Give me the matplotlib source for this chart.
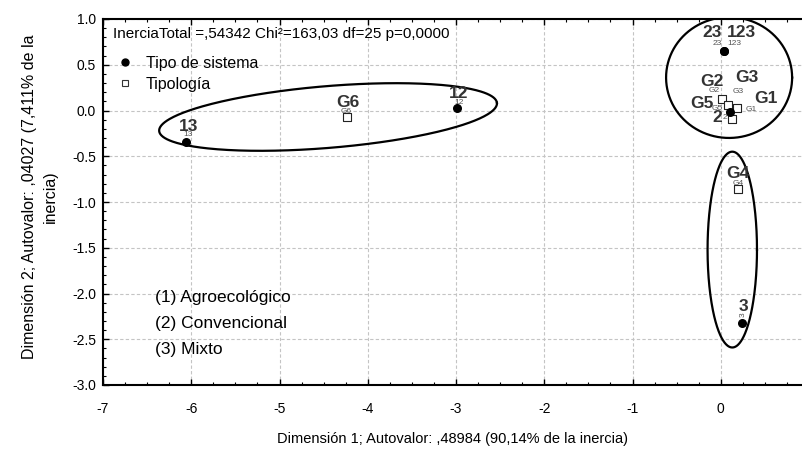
import numpy as np
import matplotlib
matplotlib.use('Agg')
import matplotlib.pyplot as plt
from matplotlib.ticker import MultipleLocator
from matplotlib.lines import Line2D

plt.rcParams['font.family'] = ['Liberation Sans', 'DejaVu Sans']
plt.rcParams['axes.unicode_minus'] = False
NARROW = ['Liberation Sans Narrow', 'Liberation Sans', 'DejaVu Sans']

# Tipo de sistema (puntos negros)
sis_nombres = ['13', '12', '23', '123', '2', '3']
sis_x = [-6.06, -2.99, 0.037, 0.037, 0.105, 0.24]
sis_y = [-0.344, 0.027, 0.65, 0.65, -0.016, -2.32]

# Tipología (cuadrados vacíos)
tip_nombres = ['G6', 'G2', 'G5', 'G1', 'G3', 'G4']
tip_x = [-4.24, 0.01, 0.083, 0.185, 0.128, 0.196]
tip_y = [-0.071, 0.13, 0.06, 0.027, -0.093, -0.858]

# desplazamiento de etiquetas (px): grande, pequeña
off_big = {'13': (3, 15), '12': (2, 15), '23': (-12, 19), '123': (17, 19),
           '2': (-13, -6), '3': (1, 16), 'G6': (1, 14), 'G2': (-10, 17),
           'G5': (-26, 2), 'G1': (29, 10), 'G3': (15, 42), 'G4': (0, 16)}
off_small = {'13': (2, 7), '12': (2, 6), '23': (-7, 8), '123': (10, 8),
             '2': (-5, -6), '3': (1, 8), 'G6': (0, 5), 'G2': (-7, 8),
             'G5': (-11, -3), 'G1': (14, -1), 'G3': (6, 28), 'G4': (0, 6)}

# elipses: centro x, centro y, semieje a, semieje b, angulo
elipses = [(-4.45, -0.071, 1.92, 0.35, 4.75),
           (0.094, 0.36, 0.714, 0.66, 0.0),
           (0.13, -1.52, 0.28, 1.07, 0.0)]

leyenda_tipos = ['(1) Agroecológico', '(2) Convencional', '(3) Mixto']

fig = plt.figure(figsize=(8.02, 4.53), dpi=100)
ax = fig.add_axes([103 / 802, 1 - 385 / 453, 1 - 103 / 802, 366 / 453])

ax.set_xlim(-7, 0.92)
ax.set_ylim(-3.0, 1.0)
ax.xaxis.set_major_locator(MultipleLocator(1))
ax.xaxis.set_minor_locator(MultipleLocator(0.25))
ax.yaxis.set_major_locator(MultipleLocator(0.5))
ax.yaxis.set_minor_locator(MultipleLocator(0.1))
ax.yaxis.set_major_formatter(matplotlib.ticker.FormatStrFormatter('%.1f'))
ax.grid(True, which='major', color='#c4c4c4', linestyle=(0, (3, 2)), linewidth=0.8)
ax.set_axisbelow(True)
ax.tick_params(which='both', direction='in', top=True, right=False, labelsize=10)
ax.tick_params(which='major', length=4, width=1)
ax.tick_params(which='minor', length=2.5, width=0.8)
ax.tick_params(axis='x', pad=12)
ax.tick_params(axis='y', pad=5)
for lab in ax.get_xticklabels():
    lab.set_family(NARROW)
ax.spines['right'].set_visible(False)
for s in ['left', 'bottom', 'top']:
    ax.spines[s].set_linewidth(1.5)

s = 91.5 / 88.2
t = np.linspace(0, 2 * np.pi, 400)
for cx, cy, a, b, ang in elipses:
    th = np.radians(ang)
    ex = cx + a * np.cos(t) * np.cos(th) - b * np.sin(t) * np.sin(th)
    ey = cy + (a * np.cos(t) * np.sin(th) + b * np.sin(t) * np.cos(th)) / (s if ang else 1)
    ax.plot(ex, ey, color='black', linewidth=1.6, zorder=3)

ax.scatter(tip_x, tip_y, marker='s', s=38, facecolors='white', edgecolors='#222222',
           linewidths=0.8, zorder=4)
ax.scatter(sis_x, sis_y, marker='o', s=30, color='black', zorder=5)

for nombres, xs, ys in [(sis_nombres, sis_x, sis_y), (tip_nombres, tip_x, tip_y)]:
    for n, x, y in zip(nombres, xs, ys):
        ax.annotate(n, (x, y), xytext=off_small[n], textcoords='offset pixels',
                    ha='center', va='center', fontsize=6, color='#555555',
                    family=NARROW, rotation=90 if n == '3' else 0, zorder=6)
        ax.annotate(n, (x, y), xytext=off_big[n], textcoords='offset pixels',
                    ha='center', va='center', fontsize=12.5, fontweight='bold',
                    color='#333333', family=NARROW, zorder=6)

ax.text(0.014, 0.959, 'InerciaTotal =,54342 Chi²=163,03 df=25 p=0,0000',
        transform=ax.transAxes, fontsize=11, family=NARROW, va='center', ha='left')

handles = [Line2D([], [], marker='o', color='black', linestyle='none', markersize=5),
           Line2D([], [], marker='s', markerfacecolor='white', markeredgecolor='#333333',
                  markeredgewidth=0.8, linestyle='none', markersize=5)]
ax.legend(handles, ['Tipo de sistema', 'Tipología'], loc='upper left',
          bbox_to_anchor=(0.0, 0.925), frameon=False, handletextpad=0.6,
          handlelength=1.5, labelspacing=0.35, borderaxespad=0.2,
          prop={'family': NARROW, 'size': 11.5})

for i, txt in enumerate(leyenda_tipos):
    ax.text(0.074, 0.238 - i * 0.071, txt, transform=ax.transAxes,
            fontsize=12.5, va='center', ha='left')

ax.set_xlabel('Dimensión 1; Autovalor: ,48984 (90,14% de la inercia)',
              fontsize=10.5, family=NARROW, labelpad=12)
fig.text(40 / 802, 1 - 197 / 453, 'Dimensión 2; Autovalor: ,04027 (7,411% de la\ninercia)',
         rotation=90, ha='center', va='center', fontsize=11.5, linespacing=1.5)

fig.savefig('out.png', dpi=100)
